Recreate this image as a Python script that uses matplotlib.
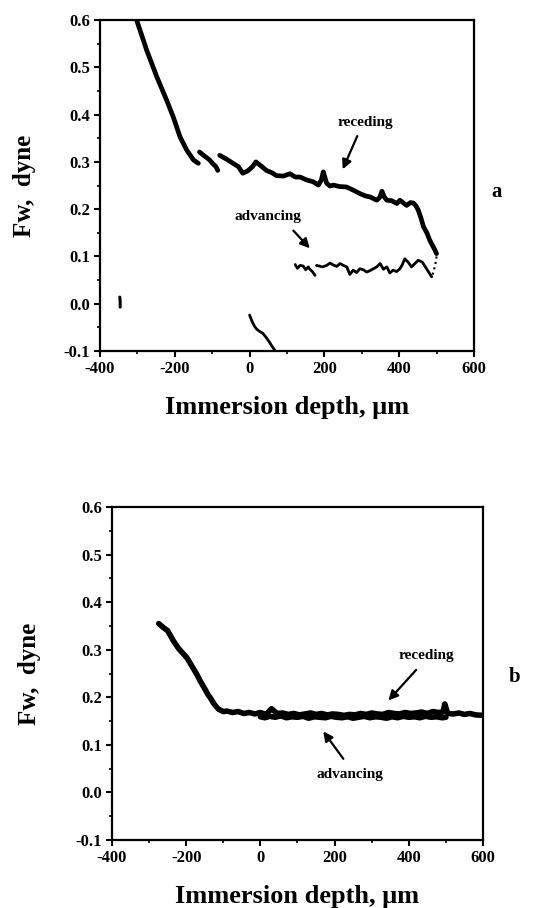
import matplotlib.pyplot as plt
import numpy as np
from matplotlib.ticker import MultipleLocator, FormatStrFormatter

plt.rcParams['font.family'] = ['Liberation Serif', 'DejaVu Serif']
plt.rcParams['font.weight'] = 'bold'
plt.rcParams['axes.unicode_minus'] = False

# ── Panel a data ──────────────────────────────────────────────────────────────
rec_a1_x = [-320, -302, -275, -248, -222, -204, -186, -168, -150, -137]
rec_a1_y = [0.62, 0.600, 0.536, 0.480, 0.431, 0.395, 0.353, 0.325, 0.304, 0.297]

rec_a2_x = [-134, -120, -108, -98, -90, -85]
rec_a2_y = [0.321, 0.312, 0.305, 0.296, 0.290, 0.282]

rec_a3_x = [-80, -62, -44, -30, -18, -5, 8, 17, 30, 45, 60, 72, 90, 108, 122, 135,
            152, 170, 184, 192, 197, 202, 206, 215, 224, 240, 259, 278, 295, 310,
            322, 340, 348, 354, 360, 367, 380, 394, 402, 410, 420, 430, 438, 445,
            451, 458, 465, 474, 482, 490, 496, 500]
rec_a3_y = [0.314, 0.306, 0.297, 0.290, 0.276, 0.281, 0.290, 0.300, 0.292, 0.282,
            0.277, 0.271, 0.270, 0.275, 0.268, 0.268, 0.262, 0.258, 0.251, 0.262,
            0.279, 0.266, 0.255, 0.249, 0.251, 0.248, 0.247, 0.240, 0.233, 0.228,
            0.226, 0.219, 0.225, 0.238, 0.226, 0.219, 0.218, 0.212, 0.219, 0.214,
            0.208, 0.214, 0.213, 0.207, 0.198, 0.182, 0.163, 0.150, 0.134, 0.122,
            0.113, 0.106]

link_a_x = [500, 497, 492, 487]
link_a_y = [0.100, 0.085, 0.068, 0.057]

adv_a1_x = [487, 478, 470, 462, 451, 442, 433, 424, 415, 408, 402, 393, 384, 375,
            367, 358, 349, 340, 331, 322, 313, 304, 295, 286, 277, 268, 260, 251,
            242, 233, 224, 215, 206, 195, 185, 179]
adv_a1_y = [0.057, 0.068, 0.078, 0.088, 0.092, 0.085, 0.078, 0.088, 0.095, 0.082,
            0.074, 0.068, 0.071, 0.065, 0.078, 0.073, 0.085, 0.078, 0.074, 0.070,
            0.067, 0.072, 0.074, 0.066, 0.071, 0.062, 0.078, 0.081, 0.085, 0.079,
            0.082, 0.086, 0.081, 0.078, 0.080, 0.081]

adv_a2_x = [175, 168, 160, 157, 150, 143, 135, 128, 122]
adv_a2_y = [0.060, 0.068, 0.074, 0.078, 0.072, 0.080, 0.081, 0.075, 0.083]

dot_a_x = [-347, -346, -346]
dot_a_y = [0.014, 0.005, -0.007]

low_a_x = [0, 6, 12, 18, 26, 36, 44, 53, 60, 67]
low_a_y = [-0.024, -0.036, -0.046, -0.053, -0.058, -0.063, -0.071, -0.081, -0.090, -0.098]

# ── Panel b data ──────────────────────────────────────────────────────────────
rec_b_x = [-274, -262, -250, -234, -220, -206, -198, -185, -172, -162, -150, -140,
           -135, -125, -113, -100, -90, -75, -60, -45, -30, -15, 0, 15, 30, 45, 60,
           75, 90, 105, 120, 135, 150, 165, 180, 195, 210, 225, 240, 255, 270, 285,
           300, 315, 330, 345, 360, 375, 390, 405, 420, 435, 450, 465, 480, 492, 497,
           505, 520, 535, 550, 565, 580, 600]
rec_b_y = [0.355, 0.347, 0.340, 0.318, 0.302, 0.290, 0.283, 0.266, 0.249, 0.234,
           0.218, 0.204, 0.199, 0.186, 0.175, 0.170, 0.171, 0.168, 0.170, 0.166,
           0.168, 0.165, 0.168, 0.164, 0.176, 0.166, 0.167, 0.164, 0.166, 0.163,
           0.165, 0.167, 0.164, 0.166, 0.163, 0.165, 0.164, 0.162, 0.164, 0.163,
           0.166, 0.164, 0.167, 0.165, 0.164, 0.168, 0.166, 0.165, 0.168, 0.166,
           0.167, 0.169, 0.166, 0.170, 0.168, 0.169, 0.186, 0.166, 0.165, 0.167,
           0.164, 0.166, 0.163, 0.162]

adv_b_x = [0, 12, 25, 40, 55, 70, 85, 100, 115, 130, 145, 160, 175, 190, 205, 220,
           235, 250, 265, 280, 295, 310, 325, 340, 355, 370, 385, 400, 415, 430,
           445, 460, 475, 490, 500]
adv_b_y = [0.159, 0.157, 0.160, 0.158, 0.161, 0.157, 0.159, 0.158, 0.160, 0.156,
           0.159, 0.158, 0.157, 0.160, 0.158, 0.157, 0.159, 0.156, 0.158, 0.160,
           0.157, 0.159, 0.158, 0.156, 0.159, 0.157, 0.160, 0.158, 0.159, 0.157,
           0.160, 0.158, 0.159, 0.157, 0.158]


def style_axes(ax, ylabelpad):
    ax.set_xlim(-400, 600)
    ax.set_ylim(-0.1, 0.6)
    ax.xaxis.set_major_locator(MultipleLocator(200))
    ax.xaxis.set_minor_locator(MultipleLocator(100))
    ax.yaxis.set_major_locator(MultipleLocator(0.1))
    ax.yaxis.set_minor_locator(MultipleLocator(0.05))
    ax.yaxis.set_major_formatter(FormatStrFormatter('%.1f'))
    ax.tick_params(which='major', length=4, width=1.5, labelsize=12, pad=3)
    ax.tick_params(which='minor', length=2.5, width=1.2)
    for lab in ax.get_xticklabels() + ax.get_yticklabels():
        lab.set_fontweight('bold')
    for sp in ax.spines.values():
        sp.set_linewidth(1.6)
    ax.set_xlabel('Immersion depth, μm', fontsize=19, fontweight='bold', labelpad=14)
    ax.set_ylabel('Fw,  dyne', fontsize=18, fontweight='bold', labelpad=ylabelpad)


fig = plt.figure(figsize=(5.41, 9.08), dpi=100)
kw = dict(color='black', solid_capstyle='round', solid_joinstyle='round')
arrow = dict(arrowstyle='-|>', color='black', lw=1.6, mutation_scale=14)

# ── Panel a ───────────────────────────────────────────────────────────────────
ax1 = fig.add_axes([0.1848, 0.6134, 0.6913, 0.3645])
ax1.plot(rec_a1_x, rec_a1_y, lw=3.4, **kw)
ax1.plot(rec_a2_x, rec_a2_y, lw=3.4, **kw)
ax1.plot(rec_a3_x, rec_a3_y, lw=3.4, **kw)
ax1.plot(link_a_x, link_a_y, lw=1.5, ls=':', color='black')
ax1.plot(adv_a1_x, adv_a1_y, lw=2.0, **kw)
ax1.plot(adv_a2_x, adv_a2_y, lw=2.0, **kw)
ax1.plot(dot_a_x, dot_a_y, lw=2.2, **kw)
ax1.plot(low_a_x, low_a_y, lw=2.0, **kw)
style_axes(ax1, 20)

ax1.text(309, 0.384, 'receding', fontsize=11, fontweight='bold', ha='center', va='center')
ax1.annotate('', xy=(246, 0.279), xytext=(291, 0.360), arrowprops=arrow)
ax1.text(50, 0.184, 'advancing', fontsize=11, fontweight='bold', ha='center', va='center')
ax1.annotate('', xy=(166, 0.113), xytext=(112, 0.159), arrowprops=arrow)
fig.text(497 / 541, 1 - 192 / 908, 'a', fontsize=15, fontweight='bold', ha='center', va='center')

# ── Panel b ───────────────────────────────────────────────────────────────────
ax2 = fig.add_axes([0.207, 0.0749, 0.6858, 0.3667])
ax2.plot(rec_b_x, rec_b_y, lw=4.0, **kw)
ax2.plot(adv_b_x, adv_b_y, lw=4.0, **kw)
style_axes(ax2, 25)

ax2.text(448, 0.287, 'receding', fontsize=11, fontweight='bold', ha='center', va='center')
ax2.annotate('', xy=(340, 0.189), xytext=(425, 0.262), arrowprops=arrow)
ax2.text(241, 0.038, 'advancing', fontsize=11, fontweight='bold', ha='center', va='center')
ax2.annotate('', xy=(165, 0.133), xytext=(228, 0.066), arrowprops=arrow)
fig.text(515 / 541, 1 - 677 / 908, 'b', fontsize=15, fontweight='bold', ha='center', va='center')

fig.savefig('out.png', dpi=100)
